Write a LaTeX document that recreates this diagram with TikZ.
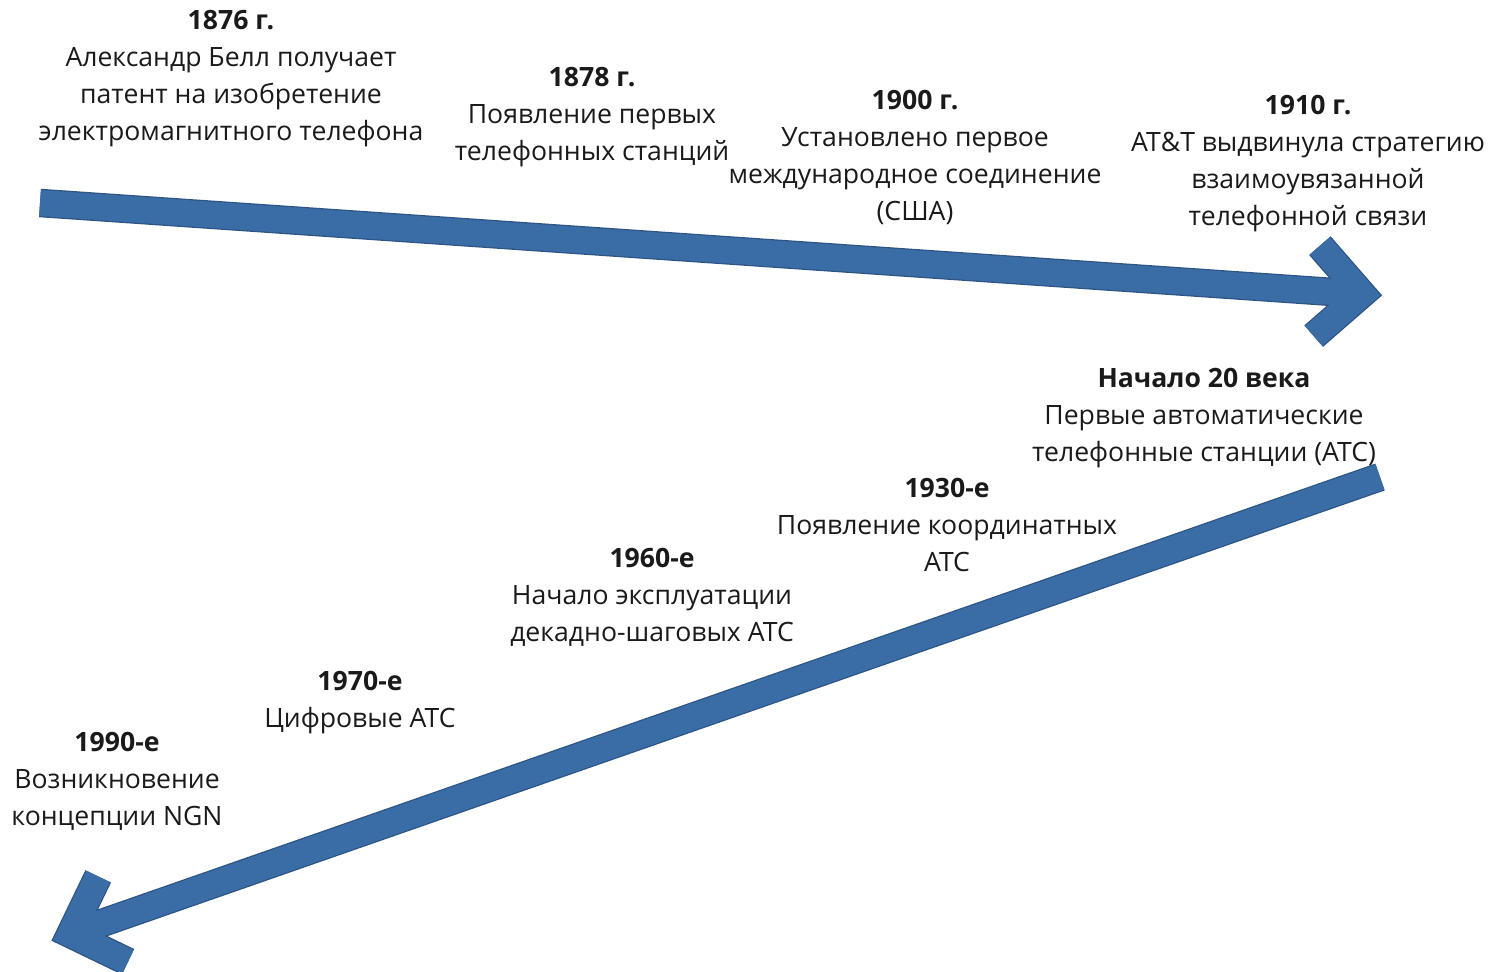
\documentclass[tikz,border=0pt]{standalone}
\usepackage{fontspec}
\setmainfont{Open Sans}
\usetikzlibrary{calc}
\definecolor{arrowblue}{HTML}{3A6CA6}
\definecolor{arrowedge}{HTML}{2C5585}
\definecolor{txt}{HTML}{1A1A1A}
\newcommand{\yr}[1]{\textbf{\strut #1}}
\tikzset{
  event/.style={anchor=north, align=center, inner sep=0pt, text=txt,
    font=\fontsize{26.6}{37.2}\selectfont},
  shaftedge/.style={line width=28.5, draw=arrowedge, line cap=butt},
  shaftfill/.style={line width=26, draw=arrowblue, line cap=butt},
  barbedge/.style={line width=28.5, draw=arrowedge, miter limit=10, line join=miter, line cap=butt},
  barbfill/.style={line width=26, draw=arrowblue, miter limit=10, line join=miter, line cap=butt},
}
\begin{document}
\begin{tikzpicture}[x=1pt,y=-1pt]
\useasboundingbox (0,0) rectangle (1497,972);

% upper timeline: left to right
\coordinate (A0) at (40,203);
\coordinate (A1) at (1362,294);
\coordinate (AU) at ($(A1)+(-42.1,-48.3)$);
\coordinate (AL) at ($(A1)+(-48.3,42.1)$);

% lower timeline: right to left
\coordinate (B0) at (1380,477);
\coordinate (B1) at (70.4,934);
\coordinate (BU) at ($(B1)+(27.8,-57.6)$);
\coordinate (BL) at ($(B1)+(57.6,27.8)$);

% dark rims first, then the blue bodies on top
\draw[shaftedge] (A0) -- (A1);
\draw[barbedge] (AU) -- (A1) -- (AL);
\draw[shaftedge] (B0) -- (B1);
\draw[barbedge] (BU) -- (B1) -- (BL);
\draw[shaftfill] (A0) -- (A1);
\draw[barbfill] (AU) -- (A1) -- (AL);
\draw[shaftfill] (B0) -- (B1);
\draw[barbfill] (BU) -- (B1) -- (BL);

% events
\node[event] (e1876) at (231,3) {\yr{1876 г.}\\Александр Белл получает\\патент на изобретение\\электромагнитного телефона};
\node[event] (e1878) at (592,60) {\yr{1878 г.}\\Появление первых\\телефонных станций};
\node[event] (e1900) at (915,83) {\yr{1900 г.}\\Установлено первое\\международное соединение\\(США)};
\node[event] (e1910) at (1308,88) {\yr{1910 г.}\\AT\&T выдвинула стратегию\\взаимоувязанной\\телефонной связи};
\node[event] (e20c) at (1204,361) {\yr{Начало 20 века}\\Первые автоматические\\телефонные станции (АТС)};
\node[event] (e1930) at (947,471) {\yr{1930-е}\\Появление координатных\\АТС};
\node[event] (e1960) at (652,541) {\yr{1960-е}\\Начало эксплуатации\\декадно-шаговых АТС};
\node[event] (e1970) at (360,664) {\yr{1970-е}\\Цифровые АТС};
\node[event] (e1990) at (117,725) {\yr{1990-е}\\Возникновение\\концепции NGN};
\end{tikzpicture}
\end{document}
